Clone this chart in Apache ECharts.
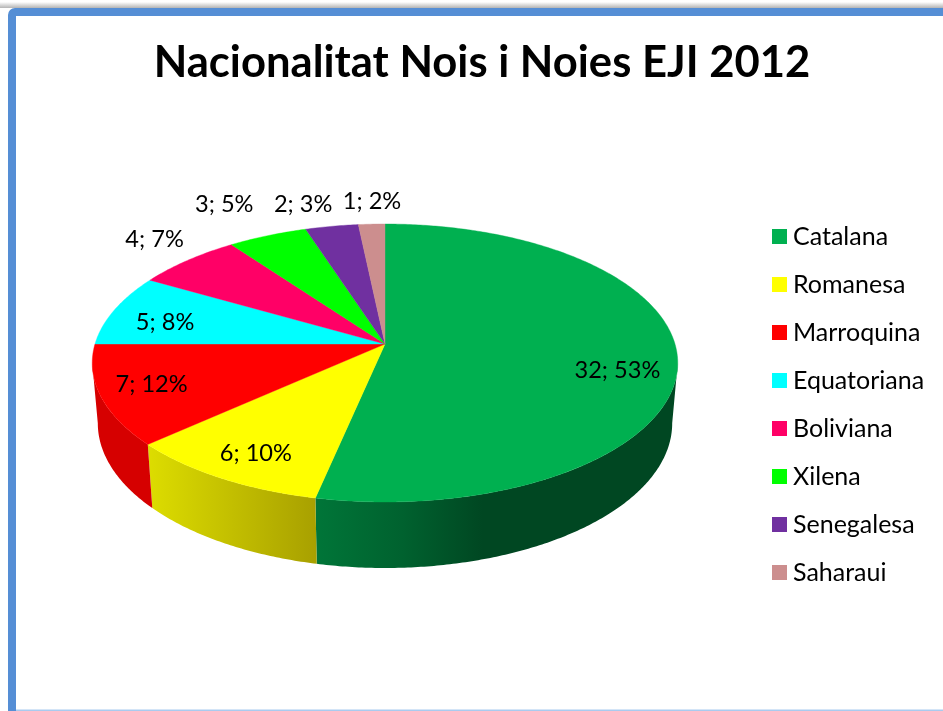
<!DOCTYPE html>
<html><head><meta charset="utf-8">
<style>html,body{margin:0;padding:0;background:#fff}#c{width:943px;height:711px}</style>
<script src="https://cdn.jsdelivr.net/npm/echarts@6/dist/echarts.min.js"></script>
</head><body><div id="c"></div>
<script>
const categories = ['Catalana','Romanesa','Marroquina','Equatoriana','Boliviana','Xilena','Senegalesa','Saharaui'];
const values = [32,6,7,5,4,3,2,1];
const titleText = 'Nacionalitat Nois i Noies EJI 2012';

const colors = ['#00B050','#FFFF00','#FF0000','#00FFFF','#FF0066','#00FF00','#7030A0','#CC8E8E'];
const labelRadius = [0.8,0.8,0.8,0.8,1.1,1.1,1.1,1.1];
const labelShift = [[-1,15],[-1,5],[-8,0],[-2,6],[-15,-13],[-33,-22],[-24,-12],[1.5,-12]];

const FONT = 'Lato, "Open Sans", sans-serif';
const total = values.reduce((a,b)=>a+b,0);
const top3d = {cx:385, cy:344, a:290, b:136.4, k:0.1367};
const low3d = {cx:385, cy:403.5, a:284.5, b:142, k:0.1367};
const wallFrom = Math.PI - Math.acos(top3d.k), wallTo = Math.PI + Math.acos(top3d.k);

function project(p, r, th){
  const u = r*Math.sin(th), v = -r*Math.cos(th), d = 1 - p.k*v;
  return [p.cx + p.a*u/d, p.cy + p.b*v/d];
}
function arc(p, from, to){
  const n = Math.max(2, Math.ceil((to-from)/0.01)), pts = [];
  for(let i=0;i<=n;i++) pts.push(project(p,1,from+(to-from)*i/n));
  return pts;
}
const sum = i => values.slice(0,i).reduce((a,b)=>a+b,0);
const angleAt = i => sum(i)/total*2*Math.PI;

function wallFill(i, x0, x1){
  if(i===0) return new echarts.graphic.LinearGradient(317,0,x1,0,[
    {offset:0,color:'#007538'},{offset:0.234,color:'#00622F'},{offset:0.46,color:'#004722'},{offset:1,color:'#004722'}],true);
  if(i===1) return new echarts.graphic.LinearGradient(x0,0,x1,0,[
    {offset:0,color:'#DDDD00'},{offset:1,color:'#A8A000'}],true);
  return '#D60000';
}

function makeRender(i){
  return function(){
    const s = angleAt(i), e = angleAt(i+1), children = [];
    const ws = Math.max(s,wallFrom), we = Math.min(e,wallTo);
    if(we>ws){
      const up = arc(top3d,ws,we), lo = arc(low3d,ws,we).reverse();
      const pts = up.concat(lo), xs = pts.map(p=>p[0]);
      const fill = wallFill(i, Math.min(...xs), Math.max(...xs));
      children.push({type:'polygon',shape:{points:pts},style:{fill:fill}});
    }
    const rim = arc(top3d,s,e);
    children.push({type:'polygon',shape:{points:[[top3d.cx,top3d.cy]].concat(rim)},
      style:{fill:colors[i],stroke:colors[i],lineWidth:0.4}});
    return {type:'group',children:children};
  };
}
function makeLabelRender(i){
  return function(){
    const mid = (angleAt(i)+angleAt(i+1))/2, p = project(top3d,labelRadius[i],mid);
    return {type:'text',x:p[0]+labelShift[i][0],y:p[1]+labelShift[i][1],
      style:{text:values[i]+'; '+Math.round(values[i]/total*100)+'%',font:'23.6px '+FONT,fill:'#000',align:'center',verticalAlign:'middle'}};
  };
}
const series = categories.map((name,i)=>({
  name:name,type:'custom',coordinateSystem:'none',silent:true,animation:false,
  itemStyle:{color:colors[i]},data:[[values[i]]],renderItem:makeRender(i),z:2
}));
series.push({type:'custom',coordinateSystem:'none',silent:true,animation:false,z:3,
  data:values.map(v=>[v]),
  renderItem:(p)=>makeLabelRender(p.dataIndex)()});

const chart = echarts.init(document.getElementById('c'),null,{renderer:'canvas'});
chart.setOption({
  animation:false,
  backgroundColor:'#fff',
  title:{text:titleText,left:477,top:36,textAlign:'center',
    textStyle:{fontFamily:FONT,fontSize:43.6,fontWeight:'bold',color:'#000'}},
  legend:{data:categories,orient:'vertical',left:772,top:224,padding:0,itemWidth:15,itemHeight:15,itemGap:23,
    selectedMode:false,icon:'rect',
    textStyle:{fontFamily:FONT,fontSize:25,color:'#000',height:15,lineHeight:15,padding:[0,0,0,1]}},
  graphic:[
    {type:'rect',z:-10,shape:{x:0,y:2,width:943,height:6},
      style:{fill:new echarts.graphic.LinearGradient(0,0,0,1,[{offset:0,color:'#FFFFFF'},{offset:1,color:'#B4B4B4'}])}},
    {type:'rect',z:-9,shape:{x:12,y:12,width:1000,height:800,r:3},style:{fill:'#fff',stroke:'#558ED5',lineWidth:8}},
    {type:'rect',z:-8,shape:{x:16,y:709.5,width:927,height:1.5},style:{fill:'#A9CBEF'}}
  ],
  series:series
});
</script></body></html>
